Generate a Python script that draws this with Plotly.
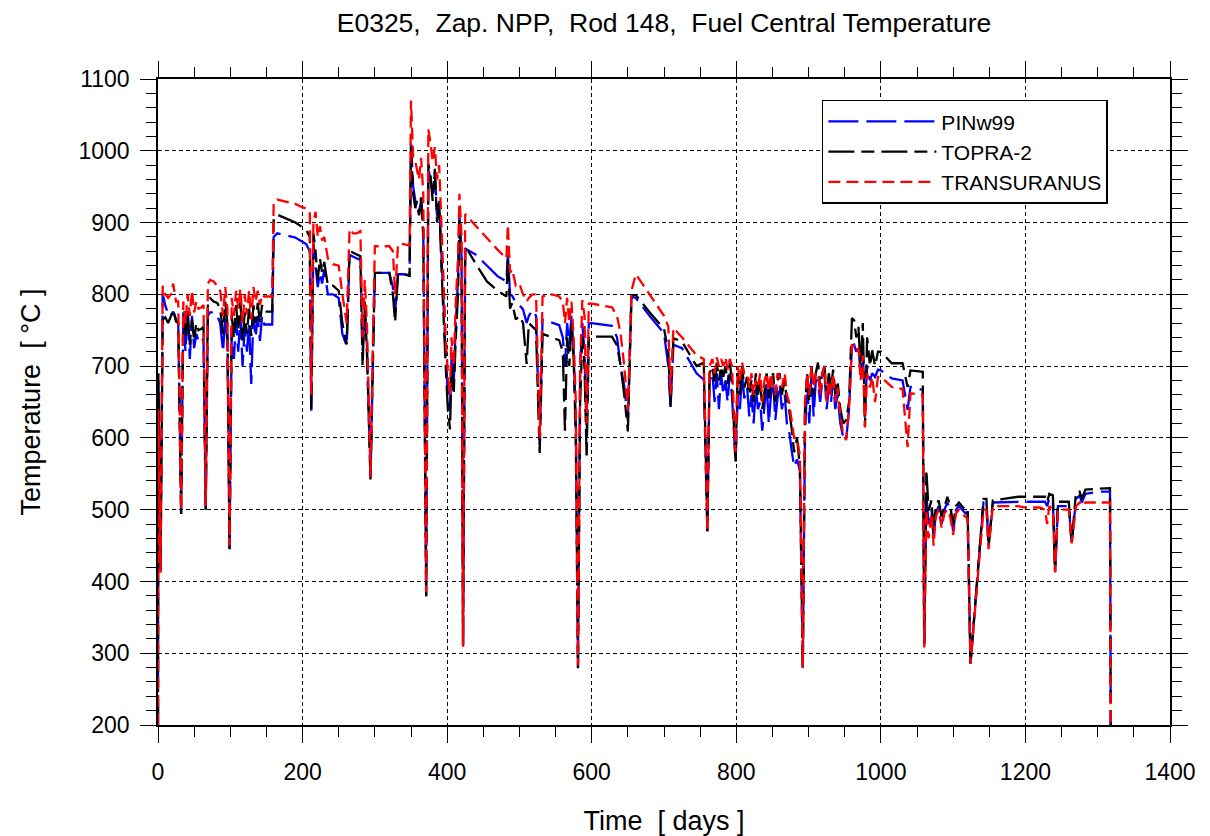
import plotly.graph_objects as go

# ---- data (days, temperatures in deg C) ----
days = [0, 0.5, 3.5, 6.5, 10, 14, 18, 21, 25, 28, 32, 35, 38, 41, 44, 47, 50, 53, 56, 60, 63, 66, 69, 72, 77, 82,
        86, 90, 93, 96, 99, 102, 105, 108, 111, 114, 117, 120, 123, 126, 129, 132, 135, 138, 141, 144, 147, 158,
        160, 165, 190, 200, 205, 210, 212, 215, 218, 221, 224, 227, 230, 235, 242, 250, 255, 261, 265, 270, 275,
        280, 283, 286, 289, 294, 297, 300, 320, 325, 328, 332, 340, 348, 350, 353, 356, 358, 361, 364, 367, 371,
        374, 377, 380, 383, 386, 389, 392, 395, 398, 401, 404, 406, 409, 412, 415, 417, 420, 422, 425, 440, 455,
        470, 482, 484, 487, 490, 495, 500, 505, 510, 513, 518, 523, 528, 532, 545, 555, 560, 563, 566, 569, 572,
        575, 578, 581, 584, 587, 590, 593, 596, 600, 628, 635, 640, 645, 650, 655, 661, 680, 700, 706, 709, 713,
        725, 745, 755, 760, 763, 767, 770, 773, 776, 779, 782, 785, 788, 791, 794, 799, 802, 805, 808, 811, 815,
        818, 821, 824, 827, 830, 833, 836, 839, 842, 845, 848, 851, 854, 857, 860, 863, 867, 870, 873, 877, 880,
        884, 888, 892, 895, 898, 901, 904, 907, 910, 913, 916, 919, 922, 925, 928, 931, 934, 937, 940, 944, 948,
        952, 956, 960, 963, 966, 969, 972, 975, 978, 981, 985, 988, 992, 996, 1000, 1015, 1030, 1037, 1041, 1058,
        1060, 1063, 1066, 1070, 1073, 1076, 1080, 1084, 1088, 1092, 1096, 1100, 1104, 1108, 1112, 1117, 1120,
        1124, 1142, 1146, 1149, 1155, 1190, 1200, 1220, 1227, 1230, 1233, 1238, 1241, 1245, 1260, 1264, 1270,
        1275, 1278, 1283, 1300, 1317, 1318]

topra2 = [200, 690, 415, 765, 768, 760, 770, 779, 762, 760, 494, 770, 740, 775, 730, 765, 735, 760, 750, 752, 755,
          500, 793, 795, 790, 788, 780, 745, 790, 760, 445, 770, 740, 785, 750, 790, 735, 775, 745, 780, 742, 785,
          760, 788, 760, 785, 776, 776,
          905, 911, 900, 894, 890, 880, 640, 885, 860, 820, 850, 830, 845, 812, 812, 805, 760, 730, 861, 858, 855,
          853, 700, 790, 720, 542, 700, 830, 830, 800, 761, 828, 828, 826, 1006, 940, 920, 930, 910, 935, 880, 379,
          982, 965, 930, 975, 900, 930, 840, 760, 700, 640, 612, 700, 660, 740, 800, 905, 850, 309, 867, 842, 818,
          805, 797, 848, 780, 788, 765, 770, 760, 703, 760, 755, 750, 579, 745, 740, 736, 720, 610, 740, 700, 760,
          710, 600, 279, 650, 739, 700, 571, 741, 741, 741, 729, 700, 660, 609, 799, 799, 775, 752, 720, 643, 739,
          734, 700, 705, 470, 690, 700, 675, 705, 680, 700, 685, 700, 675, 705, 680, 566, 690, 660, 700, 670, 685,
          660, 680, 650, 690, 660, 680, 640, 670, 690, 655, 680, 690, 650, 680, 690, 660, 680, 650, 640, 610, 580,
          600, 560, 280, 640, 690, 650, 700, 660, 690, 705, 670, 690, 700, 660, 690, 670, 695, 660, 680, 640, 620,
          625, 650, 767, 764, 740, 755, 694, 760, 615, 740, 700, 722, 700, 720, 720, 704, 704, 671, 694, 692,
          308, 555, 499, 513, 470, 505, 513, 490, 505, 518, 505, 480, 505, 510, 505, 500, 502,
          285, 515, 515, 448, 513, 518, 518, 518, 518, 510, 522, 520, 413, 511, 511, 453, 525,
          525, 515, 528, 529, 530, 200]

pinw99 = [200, 680, 415, 800, 785, 772, 770, 776, 765, 760, 494, 775, 720, 780, 710, 770, 725, 745, 735, 740, 735,
          500, 770, 775, 775, 770, 760, 720, 770, 735, 445, 745, 710, 765, 720, 770, 700, 755, 720, 760, 675, 770,
          740, 770, 735, 770, 758, 758,
          880, 885, 879, 873, 870, 860, 636, 870, 840, 810, 830, 815, 835, 800, 800, 795, 745, 728, 855, 852, 850,
          848, 720, 780, 730, 545, 690, 830, 830, 810, 775, 828, 828, 826, 1010, 950, 930, 925, 915, 930, 890, 379,
          975, 960, 940, 970, 910, 930, 850, 770, 715, 660, 640, 710, 675, 760, 820, 910, 850, 309, 864, 855, 840,
          825, 818, 855, 800, 798, 788, 785, 779, 760, 770, 778, 770, 590, 765, 760, 757, 740, 700, 760, 730, 770,
          720, 620, 280, 700, 760, 720, 600, 760, 760, 756, 740, 700, 672, 624, 797, 795, 770, 746, 700, 643, 730,
          725, 690, 681, 470, 680, 690, 650, 690, 640, 690, 660, 680, 650, 690, 660, 566, 660, 640, 690, 655, 670,
          630, 660, 620, 670, 640, 650, 610, 645, 675, 620, 660, 680, 625, 655, 675, 640, 660, 620, 610, 580, 560,
          570, 555, 280, 600, 680, 620, 690, 630, 680, 680, 650, 680, 690, 640, 670, 650, 680, 640, 660, 620, 600,
          597, 640, 729, 730, 720, 726, 690, 720, 640, 700, 680, 690, 685, 695, 694, 683, 680, 639, 671, 667,
          308, 520, 480, 500, 460, 495, 505, 480, 500, 510, 500, 470, 500, 505, 500, 495, 497,
          285, 510, 510, 450, 510, 511, 511, 511, 511, 505, 516, 512, 413, 505, 505, 453, 515,
          520, 510, 522, 525, 525, 200]

transuranus = [200, 640, 412, 812, 800, 795, 800, 815, 790, 790, 500, 790, 760, 800, 770, 805, 775, 790, 780, 782,
               785, 505, 815, 820, 818, 812, 805, 770, 810, 780, 450, 795, 770, 805, 780, 808, 760, 800, 772, 805,
               765, 810, 790, 805, 785, 800, 797, 797,
               928, 932, 926, 921, 920, 915, 660, 900, 915, 880, 895, 875, 880, 850, 842, 840, 800, 760, 891, 885,
               885, 888, 740, 820, 760, 545, 720, 867, 867, 860, 800, 870, 870, 868, 1070, 990, 985, 975, 960, 990,
               940, 385, 1030, 1010, 985, 1005, 960, 980, 900, 800, 740, 690, 660, 740, 700, 790, 850, 940, 880, 309,
               912, 895, 878, 862, 850, 897, 830, 835, 812, 815, 800, 790, 795, 800, 800, 600, 797, 800, 797, 790,
               760, 795, 760, 790, 740, 650, 283, 700, 792, 770, 620, 787, 787, 782, 770, 745, 700, 638, 805, 828,
               800, 770, 755, 660, 753, 740, 715, 710, 470, 700, 710, 690, 712, 700, 710, 700, 712, 695, 710, 700,
               580, 700, 680, 705, 690, 690, 670, 690, 660, 680, 670, 690, 650, 680, 690, 665, 690, 670, 660, 690,
               685, 670, 690, 660, 650, 620, 600, 600, 575, 280, 650, 690, 660, 700, 670, 690, 690, 660, 690, 700,
               650, 680, 660, 690, 650, 670, 630, 605, 597, 640, 729, 728, 720, 725, 680, 715, 615, 690, 670, 685,
               650, 685, 685, 671, 668, 587, 662, 660,
               308, 500, 460, 495, 450, 490, 500, 475, 495, 500, 490, 465, 495, 500, 495, 490, 488,
               285, 500, 500, 445, 505, 505, 503, 503, 500, 480, 505, 500, 413, 500, 500, 453, 505,
               510, 505, 510, 510, 510, 200]

series = [
    ("PINw99", pinw99, "#0000ff", "30px,8px"),
    ("TOPRA-2", topra2, "#000000", "26px,7px,13px,7px"),
    ("TRANSURANUS", transuranus, "#ff0000", "12px,6px"),
]

font_family = "Liberation Sans, Arial, sans-serif"

fig = go.Figure()
for name, vals, color, dash in series:
    fig.add_trace(go.Scatter(
        x=days, y=vals, mode="lines", name=name,
        line=dict(color=color, width=2.3, dash=dash),
    ))

axis_common = dict(
    showline=True, linecolor="black", linewidth=1.5, mirror="allticks",
    ticks="outside", ticklen=16, tickwidth=1, tickcolor="black",
    showgrid=True, gridcolor="black", gridwidth=1, griddash="4px,3px",
    zeroline=False, tickfont=dict(size=23, color="black", family=font_family),
    automargin=False,
)

fig.update_xaxes(
    range=[0, 1400], tickmode="linear", tick0=0, dtick=200, ticklabelstandoff=10,
    minor=dict(dtick=50, ticks="outside", ticklen=10, tickcolor="black", showgrid=False),
    title=dict(text="Time\u00a0\u00a0[ days ]", font=dict(size=27, color="black", family=font_family), standoff=34),
    **axis_common,
)
fig.update_yaxes(
    range=[200, 1100], tickmode="linear", tick0=200, dtick=100, ticklabelstandoff=6,
    minor=dict(dtick=20, ticks="outside", ticklen=10, tickcolor="black", showgrid=False),
    title=dict(text="Temperature\u00a0\u00a0[ °C ]", font=dict(size=27, color="black", family=font_family), standoff=30),
    **axis_common,
)

fig.update_layout(
    width=1210, height=836,
    margin=dict(l=158, r=40, t=79, b=111, autoexpand=False),
    paper_bgcolor="white", plot_bgcolor="white",
    title=dict(
        text="E0325,\u00a0\u00a0Zap. NPP,\u00a0\u00a0Rod 148,\u00a0\u00a0Fuel Central Temperature",
        xref="paper", x=0.5, xanchor="center", y=0.973, yanchor="middle",
        font=dict(size=26.5, color="black", family=font_family),
    ),
    legend=dict(
        x=0.656, y=0.968, xanchor="left", yanchor="top",
        bgcolor="white", bordercolor="black", borderwidth=1.5,
        font=dict(size=21, color="black", family=font_family),
        itemwidth=108, tracegroupgap=0,
    ),
    showlegend=True,
)

fig.write_html("out.html")
